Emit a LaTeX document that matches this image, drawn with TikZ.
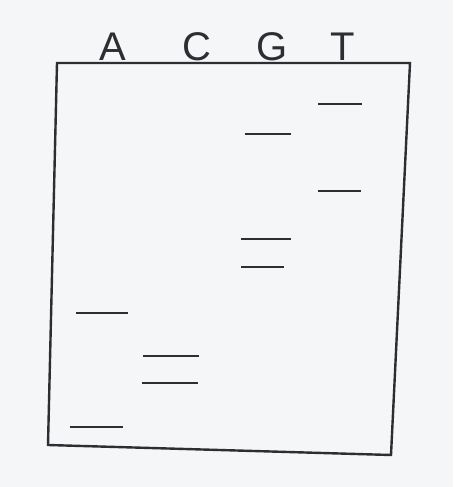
\documentclass[tikz,border=0pt]{standalone}
\usepackage{fontspec}
\setmainfont{Liberation Sans}
\definecolor{bg}{RGB}{244,246,248}
\definecolor{ink}{RGB}{45,45,50}
\begin{document}
\begin{tikzpicture}[x=1pt,y=-1pt,
  gel/.style={draw=ink,line width=2.4pt,line join=miter},
  band/.style={draw=ink,line width=2pt},
  lane/.style={text=ink,font=\fontsize{40}{40}\selectfont,anchor=base,inner sep=0pt}]
\fill[bg] (0,0) rectangle (453,487);
\useasboundingbox (0,0) rectangle (453,487);
% gel outline
\draw[gel] (57,63) -- (410,63) -- (391,455) -- (48,445) -- cycle;
% lane labels
\node[lane] (la) at (113,61) {A};
\node[lane] (lc) at (197,61) {C};
\node[lane] (lg) at (272,61) {G};
\node[lane] (lt) at (343,61) {T};
% bands
\draw[band] (318,104) -- (362,104);
\draw[band] (245,134) -- (291,134);
\draw[band] (318,191) -- (361,191);
\draw[band] (241,239) -- (291,239);
\draw[band] (241,267) -- (284,267);
\draw[band] (76,313) -- (128,313);
\draw[band] (143,356) -- (199,356);
\draw[band] (142,383) -- (198,383);
\draw[band] (70,427) -- (123,427);
\end{tikzpicture}
\end{document}
